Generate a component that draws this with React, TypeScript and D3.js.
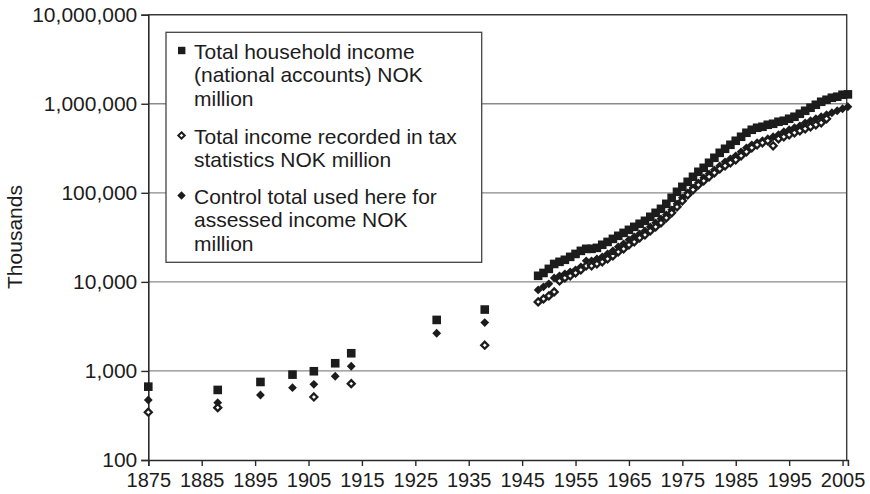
import React, { useEffect, useRef } from 'react';
import * as d3 from 'd3';

// Years with observations
const earlyYears = [1875, 1888, 1896, 1902, 1906, 1910, 1913, 1929, 1938];
const postwarYears = [
  1948, 1949, 1950, 1951, 1952, 1953, 1954, 1955, 1956, 1957, 1958, 1959,
  1960, 1961, 1962, 1963, 1964, 1965, 1966, 1967, 1968, 1969,
  1970, 1971, 1972, 1973, 1974, 1975, 1976, 1977, 1978, 1979,
  1980, 1981, 1982, 1983, 1984, 1985, 1986, 1987, 1988, 1989,
  1990, 1991, 1992, 1993, 1994, 1995, 1996, 1997, 1998, 1999,
  2000, 2001, 2002, 2003, 2004, 2005, 2006,
];

// Total household income (national accounts), NOK million
const householdEarly = [666, 612, 752, 909, 992, 1220, 1580, 3740, 4890];
const householdPostwar = [
  11700, 12600, 14000, 15900, 16800, 17700, 19100, 20600, 22300, 23500, 23500, 24100,
  26100, 28100, 30400, 32900, 35500, 38400, 41500, 44900, 48500, 53800,
  59600, 66100, 75200, 87900, 102600, 116800, 132900, 151300, 172200, 190900,
  217300, 247400, 281400, 312200, 346300, 384100, 425900, 472400, 510500, 537600,
  551700, 580700, 596000, 627800, 644200, 678500, 714400, 772000, 834300, 902000,
  974500, 1053000, 1109000, 1168000, 1199000, 1262000, 1275000,
];

// Total income recorded in tax statistics, NOK million
const taxEarly = [344, 387, null, null, 510, null, 720, null, 1945];
const taxPostwar = [
  5960, 6440, 6960, 7720, 10260, 11090, 11680, 12620, 13640, 15130, 15130, 15930,
  16780, 18130, 19600, 21740, 23490, 26050, 28140, 31210, 33740, 37410,
  41500, 46030, 52380, 59610, 69620, 81300, 94960, 108100, 123000, 136400,
  151300, 167800, 186100, 201100, 217300, 234900, 260500, 288900, 320300, 346300,
  364700, 384100, 337400, 404500, 425900, 448500, 472400, 497300, 523800, 551700,
  580700, 611500, 678500, null, null, null, null,
];

// Control total used for assessed income, NOK million
const controlEarly = [472, 440, 537, 649, 708, 872, 1129, 2650, 3490];
const controlPostwar = [
  8130, 8790, 9500, 11090, 11680, 12300, 12960, 13640, 14740, 17220, 17220, 18130,
  19100, 20640, 22300, 24740, 26730, 29640, 32040, 34630, 37410, 41500,
  46030, 51060, 56600, 64420, 75220, 87860, 100000, 113800, 129500, 147400,
  163500, 181300, 201100, 223000, 241000, 260500, 288900, 320300, 346300, 364700,
  384100, 404500, 425900, 448500, 484800, 510500, 537600, 565800, 611500, 644200,
  678500, 714400, 752200, 792100, 834300, 878600, 925300,
];

const xTicks = [1875, 1885, 1895, 1905, 1915, 1925, 1935, 1945, 1955, 1965, 1975, 1985, 1995, 2005];
const yTicks = [100, 1000, 10000, 100000, 1000000, 10000000];

const legendItems = [
  { key: 'household', lines: ['Total household income', '(national accounts) NOK', 'million'] },
  { key: 'tax', lines: ['Total income recorded in tax', 'statistics NOK million'] },
  { key: 'control', lines: ['Control total used here for', 'assessed income NOK', 'million'] },
];

const FONT = '"Liberation Sans", Arial, Helvetica, sans-serif';
const INK = '#1c1c1c';

const App: React.FC = () => {
  const svgRef = useRef<SVGSVGElement>(null);

  useEffect(() => {
    if (!svgRef.current) return;
    const svg = d3.select(svgRef.current);
    svg.selectAll('*').remove();

    const left = 148.3, right = 847.9, top = 14.7, bottom = 460;
    const frameRight = 846.7;

    const x = d3.scaleLinear().domain([1875, 2006]).range([left, right]);
    const y = d3.scaleLog().domain([100, 10000000]).range([bottom, top]);

    const years = earlyYears.concat(postwarYears);
    const mk = (vals: (number | null)[]) =>
      years.map((yr, i) => ({ year: yr, value: vals[i] })).filter(d => d.value != null) as { year: number; value: number }[];
    const household = mk([...householdEarly, ...householdPostwar]);
    const tax = mk([...taxEarly, ...taxPostwar]);
    const control = mk([...controlEarly, ...controlPostwar]);

    // gridlines
    svg.append('g')
      .selectAll('line')
      .data(yTicks.slice(1, -1))
      .join('line')
        .attr('x1', left).attr('x2', frameRight)
        .attr('y1', d => y(d)).attr('y2', d => y(d))
        .attr('stroke', '#8a8a8a').attr('stroke-width', 1.3);

    // frame top & right
    svg.append('path')
      .attr('d', `M${left},${y(10000000)}H${frameRight}V${bottom}`)
      .attr('fill', 'none').attr('stroke', '#3a3a3a').attr('stroke-width', 1.4);

    // axes
    const yAxis = svg.append('g')
      .attr('transform', `translate(${left},0)`)
      .call(d3.axisLeft(y).tickValues(yTicks).tickFormat(d3.format(',')).tickSize(7).tickPadding(4));
    const xAxis = svg.append('g')
      .attr('transform', `translate(0,${bottom})`)
      .call(d3.axisBottom(x).tickValues(xTicks).tickFormat(d3.format('d')).tickSize(6).tickPadding(7));

    [yAxis, xAxis].forEach(ax => {
      ax.select('.domain').attr('stroke', '#2a2a2a').attr('stroke-width', 1.6);
      ax.selectAll('.tick line').attr('stroke', '#2a2a2a').attr('stroke-width', 1.4);
      ax.selectAll('text').attr('fill', INK).attr('font-family', FONT);
    });
    yAxis.selectAll('text').attr('font-size', 21);
    xAxis.selectAll('text').attr('font-size', 20);

    svg.append('text')
      .attr('transform', `translate(22,237) rotate(-90)`)
      .attr('text-anchor', 'middle')
      .attr('font-family', FONT).attr('font-size', 21).attr('fill', INK)
      .text('Thousands');

    const sq = 8.6;
    const diamond = (r: number) => `M0,${-r}L${r},0L0,${r}L${-r},0Z`;

    // squares
    svg.append('g')
      .selectAll('rect')
      .data(household)
      .join('rect')
        .attr('x', d => x(d.year) - sq / 2)
        .attr('y', d => y(d.value) - sq / 2)
        .attr('width', sq).attr('height', sq)
        .attr('fill', INK);

    // filled diamonds
    svg.append('g')
      .selectAll('path')
      .data(control)
      .join('path')
        .attr('transform', d => `translate(${x(d.year)},${y(d.value)})`)
        .attr('d', diamond(4.4))
        .attr('fill', INK);

    // open diamonds
    svg.append('g')
      .selectAll('path')
      .data(tax)
      .join('path')
        .attr('transform', d => `translate(${x(d.year)},${y(d.value)})`)
        .attr('d', diamond(3.5))
        .attr('fill', '#fff')
        .attr('stroke', INK).attr('stroke-width', 2.3);

    // legend
    const lg = svg.append('g');
    lg.append('rect')
      .attr('x', 166).attr('y', 32.3).attr('width', 315.7).attr('height', 230)
      .attr('fill', '#fff').attr('stroke', '#444').attr('stroke-width', 1.3);

    const starts = [59, 144, 204];
    legendItems.forEach((item, i) => {
      const base = starts[i];
      item.lines.forEach((line, j) => {
        lg.append('text')
          .attr('x', 194).attr('y', base + j * 23.4)
          .attr('font-family', FONT).attr('font-size', 21).attr('fill', INK)
          .text(line);
      });
      const my = base - 8.5;
      if (item.key === 'household') {
        lg.append('rect').attr('x', 178).attr('y', my - 3.7).attr('width', 7.4).attr('height', 7.4).attr('fill', INK);
      } else if (item.key === 'tax') {
        lg.append('path').attr('transform', `translate(181.5,${my})`).attr('d', diamond(3.2))
          .attr('fill', '#fff').attr('stroke', INK).attr('stroke-width', 2);
      } else {
        lg.append('path').attr('transform', `translate(181.5,${my})`).attr('d', diamond(4.2)).attr('fill', INK);
      }
    });
  }, []);

  return (
    <svg
      ref={svgRef}
      width={870}
      height={494}
      style={{ position: 'absolute', left: 0, top: 0, background: '#fff', display: 'block' }}
    />
  );
};

export default App;
